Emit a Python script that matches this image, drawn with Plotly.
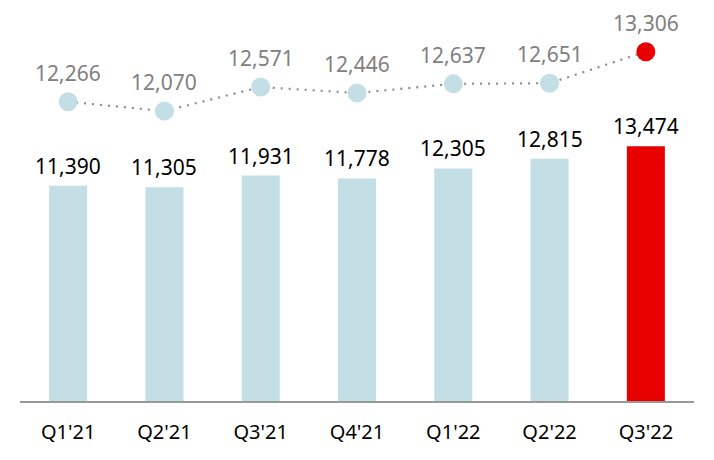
import plotly.graph_objects as go

quarters = ["Q1'21", "Q2'21", "Q3'21", "Q4'21", "Q1'22", "Q2'22", "Q3'22"]
bar_values = [11390, 11305, 11931, 11778, 12305, 12815, 13474]
line_values = [12266, 12070, 12571, 12446, 12637, 12651, 13306]

blue = "#c4dee6"
red = "#e80000"
colors = [blue] * (len(quarters) - 1) + [red]

fig = go.Figure()
fig.add_trace(go.Bar(x=quarters, y=bar_values, marker_color=colors, marker_line_width=0,
                     yaxis="y", showlegend=False))
fig.add_trace(go.Scatter(x=quarters, y=line_values, mode="lines+markers", yaxis="y2",
                         line=dict(color="#8c8c8c", width=2.2, dash="2px,6px"),
                         marker=dict(size=19, color=colors, line_width=0),
                         showlegend=False))

ann = []
for q, v in zip(quarters, bar_values):
    ann.append(dict(x=q, y=v, xref="x", yref="y", text=f"{v:,}", showarrow=False,
                    yanchor="bottom", yshift=4, font=dict(size=21, color="#000000", family="Noto Sans")))
for q, v in zip(quarters, line_values):
    ann.append(dict(x=q, y=v, xref="x", yref="y2", text=f"{v:,}", showarrow=False,
                    yanchor="bottom", yshift=13, font=dict(size=21, color="#808080", family="Noto Sans")))

fig.update_layout(
    width=714, height=460,
    margin=dict(l=20, r=20, t=0, b=59),
    paper_bgcolor="white", plot_bgcolor="white",
    bargap=0.605,
    font=dict(family="Noto Sans", size=20, color="#000000"),
    xaxis=dict(showline=True, linecolor="#999999", linewidth=1.5, ticks="outside",
               ticklen=12, tickcolor="rgba(0,0,0,0)", tickfont=dict(size=20, color="#000000"),
               showgrid=False, zeroline=False),
    yaxis=dict(range=[0, 21217], visible=False, showgrid=False, zeroline=False),
    yaxis2=dict(range=[6041, 14381], overlaying="y", visible=False, showgrid=False, zeroline=False),
    annotations=ann,
)
fig.write_html("out.html")
